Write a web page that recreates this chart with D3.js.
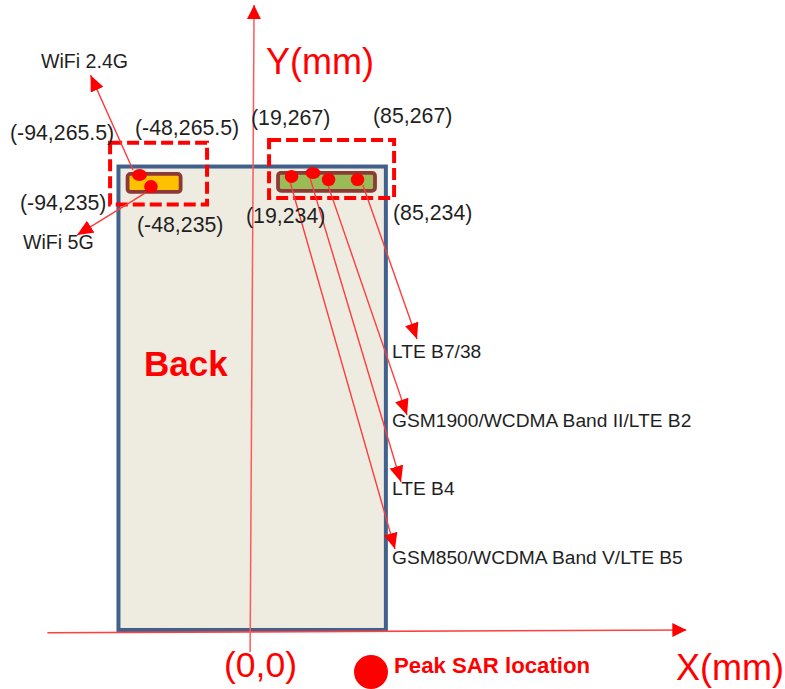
<!DOCTYPE html>
<html>
<head>
<meta charset="utf-8">
<script src="https://cdn.jsdelivr.net/npm/d3@7"></script>
<style>
  html, body { margin: 0; padding: 0; background: #fff; overflow: hidden; }
  svg { display: block; }
  text { font-family: "Liberation Sans", Arial, sans-serif; }
</style>
</head>
<body>
<div id="chart"></div>
<script>
// Peak SAR locations, values in mm
const BANDS   = ["WiFi 2.4G","WiFi 5G","GSM850/WCDMA Band V/LTE B5","LTE B4","GSM1900/WCDMA Band II/LTE B2","LTE B7/38"];
const PEAK_X  = [-75.3, -67.5, 28.2, 42.8, 53.4, 73.1];
const PEAK_Y  = [248.0, 241.7, 247.2, 249.1, 245.5, 245.5];
const START_X = [-79.7, -71.5, 27.2, 40.8, 53.0, 76.8];
const START_Y = [250.7, 238.2, 244.2, 246.3, 242.5, 242.5];
const TIP_X   = [-108.6, -117.8, 98.6, 102.7, 106.8, 113.6];
const TIP_Y   = [302.2, 215.4, 45.0, 81.4, 117.7, 159.0];

// x0, x1, y0, y1
const PHONE     = [-89.6, 92.4, 1.1, 252.6];
const ANT_WIFI  = [-83.4, -47.3, 238.8, 248.6];
const ANT_LTE   = [19.0, 85.0, 239.4, 249.2];
const ZONE_WIFI = [-95.3, -29.3, 232.0, 265.5];
const ZONE_LTE  = [12.9, 98.0, 235.5, 267.0];

const COORDS = ["(-94,265.5)","(-48,265.5)","(-94,235)","(-48,235)","(19,267)","(85,267)","(19,234)","(85,234)"];

const W = 785, H = 689;
const x = d3.scaleLinear().domain([-94, 85]).range([112, 375]);
const y = d3.scaleLinear().domain([0, 267]).range([632, 140]);

const svg = d3.select("#chart").append("svg").attr("width", W).attr("height", H).attr("viewBox", `0 0 ${W} ${H}`);

svg.append("defs").selectAll("marker").data([["head", 16, 14], ["headAxis", 14, 14]]).join("marker")
  .attr("id", d => d[0])
  .attr("viewBox", d => `0 0 ${d[1]} ${d[2]}`)
  .attr("refX", d => d[1]).attr("refY", d => d[2] / 2)
  .attr("markerUnits", "userSpaceOnUse")
  .attr("markerWidth", d => d[1]).attr("markerHeight", d => d[2])
  .attr("orient", "auto")
  .append("path").attr("d", d => `M0,0L${d[1]},${d[2] / 2}L0,${d[2]}Z`).attr("fill", "#ff0000");

const box = (sel, b) => sel
  .attr("x", x(b[0])).attr("y", y(b[3]))
  .attr("width", x(b[1]) - x(b[0])).attr("height", y(b[2]) - y(b[3]));

// Telefono
svg.append("rect").call(box, PHONE).attr("fill", "#eeece1").attr("stroke", "#41618c").attr("stroke-width", 4);

// Ejes
const line = d3.line().x(d => x(d[0])).y(d => y(d[1]));
svg.append("path").attr("d", line([[-138, -0.4], [296.9, 1.1]]))
  .attr("stroke", "#ff4040").attr("stroke-width", 1.6).attr("fill", "none").attr("marker-end", "url(#headAxis)");
svg.append("path").attr("d", line([[0, -10.9], [2.7, 340.2]]))
  .attr("stroke", "#ff5a5a").attr("stroke-width", 1.5).attr("fill", "none").attr("marker-end", "url(#headAxis)");

// Antenas
svg.append("rect").call(box, ANT_WIFI).attr("rx", 3).attr("fill", "#ffc000").attr("stroke", "#8c3a38").attr("stroke-width", 3.8);
svg.append("rect").call(box, ANT_LTE).attr("rx", 3).attr("fill", "#9bbb59").attr("stroke", "#8c3a38").attr("stroke-width", 3.8);

// Zonas punteadas
[ZONE_WIFI, ZONE_LTE].forEach(z => {
  svg.append("rect").call(box, z).attr("fill", "none").attr("stroke", "#ff0000")
    .attr("stroke-width", 4).attr("stroke-dasharray", "12,5");
});

// Flechas
svg.append("g").selectAll("path").data(BANDS).join("path")
  .attr("d", (d, i) => line([[START_X[i], START_Y[i]], [TIP_X[i], TIP_Y[i]]]))
  .attr("stroke", "#ff3c3c").attr("stroke-width", 1.4).attr("fill", "none").attr("marker-end", "url(#head)");

// Puntos
svg.append("g").selectAll("ellipse").data(BANDS).join("ellipse")
  .attr("cx", (d, i) => x(PEAK_X[i])).attr("cy", (d, i) => y(PEAK_Y[i]))
  .attr("rx", (d, i) => (i === 0 || i === 3) ? 7.5 : 6.8)
  .attr("ry", (d, i) => (i === 0 || i === 3) ? 6 : 6.5)
  .attr("fill", "#ff0000");

// Textos
const label = (txt, px, py, size, opts = {}) => svg.append("text")
  .attr("x", px).attr("y", py).attr("font-size", size)
  .attr("font-weight", opts.bold ? 700 : 400)
  .attr("fill", opts.fill || "#1f1f1f").text(txt);

const coordPos = [[10, 140], [135, 135], [20, 210], [137, 232], [251, 125], [373, 123], [246, 223], [393, 220]];
COORDS.forEach((c, i) => label(c, coordPos[i][0], coordPos[i][1], 21.3));

const bandPos = [[41, 68], [23, 249], [392, 564], [392, 495], [392, 427], [392, 358]];
BANDS.forEach((b, i) => label(b, bandPos[i][0], bandPos[i][1], i < 2 ? 19.6 : 19.2));

label("Back", 144, 376, 35, { bold: true, fill: "#ff0000" });
label("Y(mm)", 266, 74, 36, { fill: "#ff0000" });
label("X(mm)", 676, 680, 36, { fill: "#ff0000" });
label("(0,0)", 224, 677, 35.5, { fill: "#ff0000" });

// Leyenda
svg.append("circle").attr("cx", 371).attr("cy", 672).attr("r", 17).attr("fill", "#ff0000");
label("Peak SAR location", 394, 673, 22.2, { bold: true, fill: "#ff0000" });
</script>
</body>
</html>
